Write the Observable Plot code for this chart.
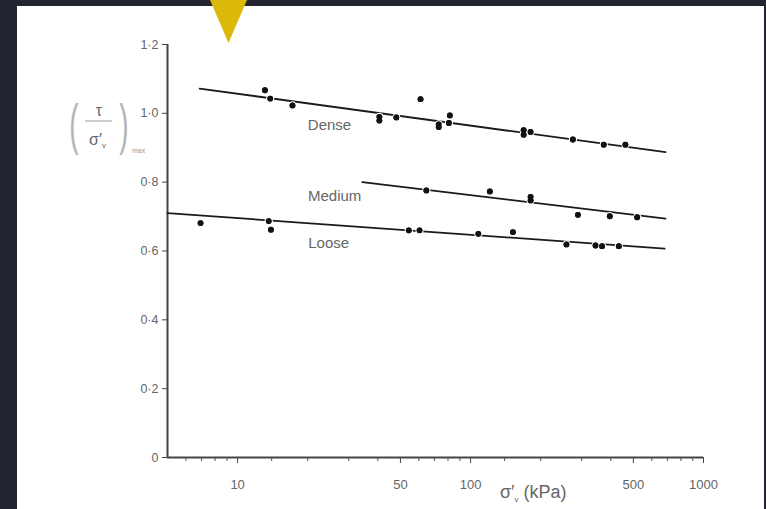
<!DOCTYPE html>
<html>
<head>
<meta charset="utf-8">
<script src="https://cdn.jsdelivr.net/npm/d3@7"></script>
<script src="https://cdn.jsdelivr.net/npm/@observablehq/plot@0.6"></script>
<style>
  html, body { margin: 0; padding: 0; background: #22252f; width: 766px; height: 509px; overflow: hidden; }
  #panel { position: absolute; left: 17px; top: 6px; width: 747px; height: 503px; background: #fff; }
  #tri { position: absolute; left: 0; top: 0; }
</style>
</head>
<body>
<div id="panel"></div>
<svg id="tri" width="766" height="60"><polygon points="210,0 247,0 228.5,43" fill="#dbb909"/></svg>
<script>
// Data: sigma'v (kPa) and (tau/sigma'v)max
const denseX = [13.1, 13.8, 17.2, 40.6, 40.6, 48, 61, 73, 73, 81.5, 80.7, 169, 169, 181, 275, 373, 462];
const denseY = [1.067, 1.043, 1.023, 0.990, 0.979, 0.988, 1.041, 0.968, 0.960, 0.994, 0.972, 0.951, 0.938, 0.946, 0.924, 0.909, 0.909];
const mediumX = [64.6, 121, 181, 181, 289, 396, 519];
const mediumY = [0.776, 0.773, 0.757, 0.747, 0.705, 0.701, 0.698];
const looseX = [6.93, 13.6, 13.9, 54.3, 60.4, 108, 152, 258, 344, 367, 433];
const looseY = [0.681, 0.687, 0.662, 0.660, 0.660, 0.650, 0.655, 0.619, 0.616, 0.614, 0.614];

// Fitted trend lines (end points)
const denseLineX = [6.87, 687], denseLineY = [1.072, 0.887];
const mediumLineX = [34.3, 687], mediumLineY = [0.800, 0.694];
const looseLineX = [5, 681], looseLineY = [0.710, 0.607];

// Series labels
const labelNames = ["Dense", "Medium", "Loose"];
const labelX = [24.8, 26.1, 24.6];
const labelY = [0.965, 0.759, 0.622];

// Axis ticks
const xMajorTicks = [10, 50, 100, 500, 1000];
const xMajorLabels = ["10", "50", "100", "500", "1000"];
const xMinorTicks = [6, 7, 8, 9, 14, 20, 30, 40, 60, 70, 80, 90, 140, 200, 300, 400, 600, 700, 800, 900];
const yTicks = [0, 0.2, 0.4, 0.6, 0.8, 1.0, 1.2];

const pts = (xs, ys) => xs.map((x, i) => ({x, y: ys[i]}));
const dense = pts(denseX, denseY), medium = pts(mediumX, mediumY), loose = pts(looseX, looseY);
const lines = [
  pts(denseLineX, denseLineY), pts(mediumLineX, mediumLineY), pts(looseLineX, looseLineY)
];
const labels = labelNames.map((t, i) => ({t, x: labelX[i], y: labelY[i]}));
const xLabs = xMajorTicks.map((x, i) => ({x, t: xMajorLabels[i]}));
const allPts = dense.concat(medium, loose);

const chart = Plot.plot({
  width: 747,
  height: 503,
  marginLeft: 150,
  marginRight: 61,
  marginTop: 38,
  marginBottom: 52,
  style: {fontFamily: "Liberation Sans, Arial, sans-serif", background: "white", color: "#555"},
  x: {type: "log", domain: [5, 1000]},
  y: {domain: [0, 1.2]},
  marks: [
    Plot.axisY(yTicks, {tickSize: 5, tickPadding: 4, fontSize: 12.5, stroke: "#444", fill: "#666",
      tickFormat: d => d === 0 ? "0" : d.toFixed(1).replace(".", "·"), label: null}),
    Plot.axisX(xMinorTicks, {tickSize: 4, tickFormat: () => "", label: null, stroke: "#555"}),
    Plot.axisX(xMajorTicks, {tickSize: 6, tickFormat: () => "", label: null, stroke: "#444"}),
    Plot.text(xLabs, {x: "x", text: "t", frameAnchor: "bottom", dy: 31, fontSize: 13, fill: "#666"}),
    Plot.ruleX([5], {stroke: "#444", strokeWidth: 2}),
    Plot.ruleY([0], {stroke: "#444", strokeWidth: 2}),
    ...lines.map(l => Plot.line(l, {x: "x", y: "y", stroke: "#1a1a1a", strokeWidth: 1.8})),
    Plot.dot(allPts, {x: "x", y: "y", r: 2.9, fill: "#111", stroke: "white", strokeWidth: 2.5, paintOrder: "stroke"}),
    Plot.dot(allPts, {x: "x", y: "y", r: 2.9, fill: "#111"}),
    Plot.text(labels, {x: "x", y: "y", text: "t", fontSize: 15, fill: "#666"})
  ]
});

const svg = d3.select(chart);
// Y axis label: (tau / sigma'v)max
const g = svg.append("g").attr("fill", "#888").attr("font-family", "Liberation Sans, Arial, sans-serif");
g.append("text").attr("x", 57).attr("y", 137).attr("font-size", 56).attr("fill", "#b5b5b5")
  .attr("text-anchor", "middle").attr("transform", "translate(57,137) scale(0.5,1) translate(-57,-137)").text("(");
g.append("text").attr("x", 107).attr("y", 137).attr("font-size", 56).attr("fill", "#b5b5b5")
  .attr("text-anchor", "middle").attr("transform", "translate(107,137) scale(0.5,1) translate(-107,-137)").text(")");
g.append("text").attr("x", 82).attr("y", 110).attr("font-size", 16).attr("fill", "#666")
  .attr("text-anchor", "middle").text("τ");
g.append("line").attr("x1", 68).attr("x2", 95).attr("y1", 115).attr("y2", 115).attr("stroke", "#999").attr("stroke-width", 1);
const sg = g.append("text").attr("x", 72).attr("y", 139).attr("font-size", 16).attr("fill", "#666")
  .attr("text-anchor", "start");
sg.append("tspan").text("σ′");
sg.append("tspan").attr("font-size", 8).attr("dy", 3).text("v");
g.append("text").attr("x", 115).attr("y", 147).attr("font-size", 7).attr("fill", "#999")
  .attr("text-anchor", "start").text("max");

// X axis label
const xl = svg.append("text").attr("x", 483).attr("y", 492).attr("font-size", 18).attr("fill", "#666")
  .attr("text-anchor", "start").attr("font-family", "Liberation Sans, Arial, sans-serif");
xl.append("tspan").text("σ′");
xl.append("tspan").attr("font-size", 8).attr("dy", 4).text("v");
xl.append("tspan").attr("dy", -4).text(" (kPa)");

document.getElementById("panel").appendChild(chart);
</script>
</body>
</html>
